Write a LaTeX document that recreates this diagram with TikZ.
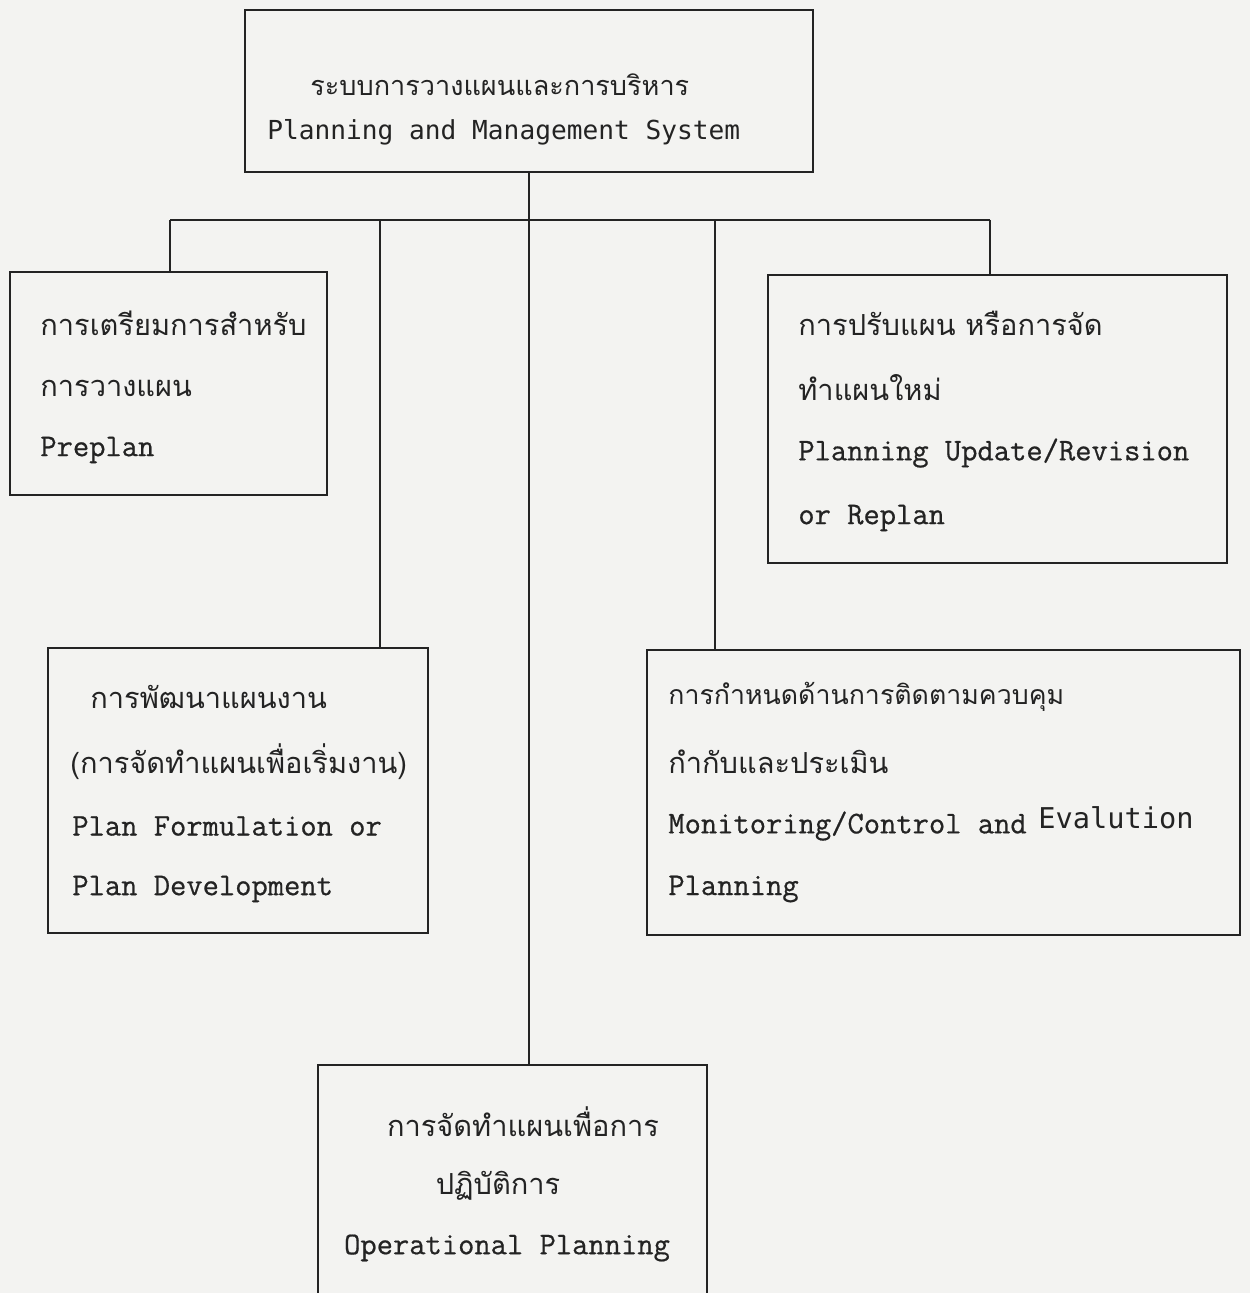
\documentclass[tikz,border=0pt]{standalone}
\usepackage{fontspec}
\newfontfamily\twfont[FakeBold=0.6]{Latin Modern Mono}
\newfontfamily\thaifont[Script=Thai]{Loma}
\newfontfamily\gothfont{DejaVu Sans Mono}
\definecolor{paper}{RGB}{243,243,241}
\definecolor{ink}{RGB}{35,35,35}
\tikzset{
  box/.style={draw=ink, line width=1.4pt, inner sep=0pt, rectangle},
  conn/.style={draw=ink, line width=1.4pt},
  tw/.style={anchor=west, inner sep=0pt, text=ink, font=\twfont\fontsize{18}{20}\selectfont},
  th/.style={anchor=west, inner sep=0pt, text=ink, font=\thaifont\fontsize{16.5}{20}\selectfont},
  gt/.style={anchor=west, inner sep=0pt, text=ink, font=\gothfont\fontsize{14.9}{18}\selectfont},
}
\begin{document}
\begin{tikzpicture}[x=0.02cm, y=-0.02cm]
\fill[paper] (0,0) rectangle (1250,1293);
\useasboundingbox (0,0) rectangle (1250,1293);

% boxes
\node[box, minimum width=11.36cm, minimum height=3.24cm] (top) at (529,91) {};
\node[box, minimum width=6.34cm, minimum height=4.46cm] (prep) at (168.5,383.5) {};
\node[box, minimum width=9.18cm, minimum height=5.76cm] (replan) at (997.5,419) {};
\node[box, minimum width=7.6cm, minimum height=5.7cm] (form) at (238,790.5) {};
\node[box, minimum width=11.86cm, minimum height=5.7cm] (mon) at (943.5,792.5) {};
\node[box, minimum width=7.78cm, minimum height=4.7cm] (ops) at (512.5,1182.5) {};

% connectors
\coordinate (bL) at (170,220);
\coordinate (bF) at (380,220);
\coordinate (bM) at (715,220);
\coordinate (bR) at (990,220);
\draw[conn] (top.south) -- (top.south |- ops.north);
\draw[conn] (bL) -- (bR);
\draw[conn] (bL) -- (bL |- prep.north);
\draw[conn] (bF) -- (bF |- form.north);
\draw[conn] (bM) -- (bM |- mon.north);
\draw[conn] (bR) -- (bR |- replan.north);

% top text
\node[th, font=\thaifont\fontsize{15.4}{20}\selectfont] (t1) at (310,85) {ระบบการวางแผนและการบริหาร};
\node[gt] (t2) at (267,132) {Planning and Management System};

% preplan
\node[th] (p1) at (40,323) {การเตรียมการสำหรับ};
\node[th] (p2) at (40,388) {การวางแผน};
\node[tw] (p3) at (40,450) {Preplan};

% replan
\node[th] (r1) at (798,323) {การปรับแผน หรือการจัด};
\node[th] (r2) at (798,388) {ทำแผนใหม่};
\node[tw] (r3) at (798,453) {Planning Update/Revision};
\node[tw] (r4) at (798,518) {or Replan};

% formulation
\node[th] (f1) at (90,697) {การพัฒนาแผนงาน};
\node[th] (f2) at (70,762) {(การจัดทำแผนเพื่อเริ่มงาน)};
\node[tw] (f3) at (72,826) {Plan Formulation or};
\node[tw] (f4) at (72,889) {Plan Development};

% monitoring
\node[th, font=\thaifont\fontsize{15.2}{20}\selectfont] (m1) at (668,697) {การกำหนดด้านการติดตามควบคุม};
\node[th] (m2) at (668,762) {กำกับและประเมิน};
\node[tw] (m3) at (668,826) {Monitoring/Control and};
\node[gt, font=\gothfont\fontsize{16.3}{18}\selectfont] (m4) at (1038,818) {Evalution};
\node[tw] (m5) at (668,889) {Planning};

% operational
\node[th, anchor=center] (o1) at (523,1122) {การจัดทำแผนเพื่อการ};
\node[th, anchor=center] (o2) at (498,1186) {ปฏิบัติการ};
\node[tw, anchor=center] (o3) at (507,1248) {Operational Planning};
\end{tikzpicture}
\end{document}
